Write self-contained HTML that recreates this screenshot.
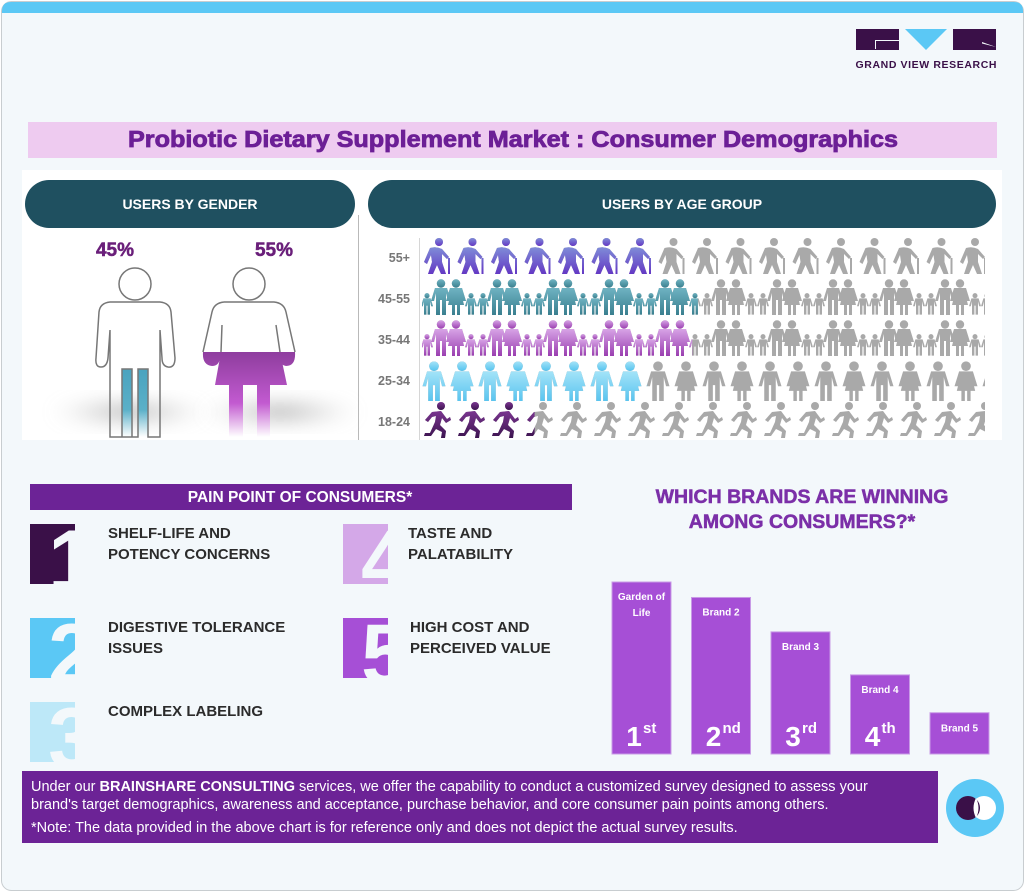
<!DOCTYPE html>
<html><head><meta charset="utf-8"><style>
html,body{margin:0;padding:0;background:#fff;}
svg{display:block;font-family:"Liberation Sans",Arial,sans-serif;}
</style></head><body>
<svg id="root" width="1025" height="892" viewBox="0 0 1025 892">
<defs>
 <linearGradient id="gMan" x1="0" y1="0" x2="0" y2="1"><stop offset="0" stop-color="#4aa3bf"/><stop offset="0.6" stop-color="#5bb0c8"/><stop offset="1" stop-color="#ffffff"/></linearGradient>
 <linearGradient id="gWoman" x1="0" y1="0" x2="0" y2="1"><stop offset="0" stop-color="#8e3d9e"/><stop offset="0.6" stop-color="#c25ad0"/><stop offset="1" stop-color="#ffffff"/></linearGradient>
 <radialGradient id="gShadow" cx="0.5" cy="0.5" r="0.5"><stop offset="0" stop-color="#999" stop-opacity="0.7"/><stop offset="1" stop-color="#ccc" stop-opacity="0"/></radialGradient>
 <linearGradient id="c0" x1="0" y1="0" x2="0" y2="1"><stop offset="0" stop-color="#7f8cd8"/><stop offset="1" stop-color="#6438c4"/></linearGradient>
 <linearGradient id="c1" x1="0" y1="0" x2="0" y2="1"><stop offset="0" stop-color="#6fb3c2"/><stop offset="1" stop-color="#3a7f8f"/></linearGradient>
 <linearGradient id="c2" x1="0" y1="0" x2="0" y2="1"><stop offset="0" stop-color="#d7a3e6"/><stop offset="1" stop-color="#9a3fb0"/></linearGradient>
 <linearGradient id="c3" x1="0" y1="0" x2="0" y2="1"><stop offset="0" stop-color="#a3e3f8"/><stop offset="1" stop-color="#55c3ef"/></linearGradient>
 <linearGradient id="c4" x1="0" y1="0" x2="0" y2="1"><stop offset="0" stop-color="#7a3590"/><stop offset="1" stop-color="#3d1450"/></linearGradient>
 <filter id="blur"><feGaussianBlur stdDeviation="8"/></filter>
</defs>

<rect x="1.5" y="1.5" width="1022" height="889" rx="10" fill="#f3f8fb" stroke="#c8cdd0"/>
<path d="M2 13 V11 Q2 2 11 2 H1014 Q1023 2 1023 11 V13 Z" fill="#5bc8f5"/>

<g>
 <rect x="856" y="29" width="43" height="21" fill="#3a1048"/>
 <path d="M875 40 H899 V41 H876 V49 H875 Z" fill="#f3f8fb"/>
 <path d="M905 29 H947 L926 50 Z" fill="#5bc8f5"/>
 <rect x="953" y="29" width="43" height="21" fill="#3a1048"/>
 <path d="M982 42 L996 47 L982 43.5 Z" fill="#f3f8fb"/>
 <text x="926" y="68" text-anchor="middle" font-size="10.5" font-weight="bold" fill="#3a1048" textLength="141">GRAND VIEW RESEARCH</text>
</g>

<rect x="28" y="122" width="969" height="36" fill="#eecbf0"/>
<text x="513" y="147" text-anchor="middle" font-size="23" font-weight="900" fill="#6c1f96" stroke="#6c1f96" stroke-width="0.8" textLength="770" lengthAdjust="spacingAndGlyphs">Probiotic Dietary Supplement Market : Consumer Demographics</text>

<rect x="22" y="170" width="980" height="270" fill="#ffffff"/>
<line x1="358.5" y1="215" x2="358.5" y2="440" stroke="#b9b9b9"/>
<rect x="25" y="180" width="330" height="48" rx="24" fill="#1f5060"/>
<text x="190" y="209" text-anchor="middle" font-size="14" font-weight="bold" fill="#fff">USERS BY GENDER</text>
<rect x="368" y="180" width="628" height="48" rx="24" fill="#1f5060"/>
<text x="682" y="209" text-anchor="middle" font-size="14" font-weight="bold" fill="#fff">USERS BY AGE GROUP</text>

<g>
 <ellipse cx="130" cy="412" rx="80" ry="18" fill="url(#gShadow)" filter="url(#blur)"/>
 <ellipse cx="280" cy="412" rx="80" ry="18" fill="url(#gShadow)" filter="url(#blur)"/>
 <text x="115" y="256" text-anchor="middle" font-size="19" font-weight="bold" fill="#6a1f7a" stroke="#6a1f7a" stroke-width="0.5">45%</text>
 <text x="274" y="256" text-anchor="middle" font-size="19" font-weight="bold" fill="#6a1f7a" stroke="#6a1f7a" stroke-width="0.5">55%</text>
 <g>
  <circle cx="135" cy="284" r="16" fill="#fff" stroke="#777" stroke-width="1.5"/>
  <path d="M122 369 H132 V437 H122 Z M138 369 H148 V437 H138 Z" fill="url(#gMan)"/>
  <path d="M110 302 H160 Q170 303 171 312 L175 358 Q175 368 168 367 Q162 366 162 358 L160 330 V437 H148 V369 H138 V437 H122 V369 H132 V437 H110 V330 L108 358 Q107 367 101 367 Q95 367 96 358 L99 312 Q100 303 110 302 Z" fill="none" stroke="#777" stroke-width="1.5"/>
 </g>
 <g>
  <circle cx="249" cy="284" r="16" fill="#fff" stroke="#777" stroke-width="1.5"/>
  <path d="M203 352 H295 Q296 366 286 366 Q280 365 279 358 L280 352 L287 385 H270 V437 H257 V385 H243 V437 H229 V385 H215 L221 352 L220 358 Q219 366 212 366 Q202 365 203 352 Z" fill="url(#gWoman)"/>
  <path d="M224 302 H274 Q284 303 286 312 L295 352 M203 352 L212 312 Q214 303 224 302 M222 325 L221 352 M276 325 L280 352" fill="none" stroke="#777" stroke-width="1.5"/>
 </g>
</g>

<g id="ageChart"></g>

<line x1="30.5" y1="484" x2="30.5" y2="510" stroke="#b88ad0"/>
<rect x="30" y="484" width="542" height="26" fill="#6c2396"/>
<text x="300" y="502" text-anchor="middle" font-size="15.5" font-weight="bold" fill="#fff">PAIN POINT OF CONSUMERS*</text>
<g id="painPoints"></g>

<text x="802" y="503" text-anchor="middle" font-size="19.5" font-weight="bold" fill="#7b2fa8" stroke="#7b2fa8" stroke-width="0.5">WHICH BRANDS ARE WINNING</text>
<text x="802" y="528" text-anchor="middle" font-size="19.5" font-weight="bold" fill="#7b2fa8" stroke="#7b2fa8" stroke-width="0.5">AMONG CONSUMERS?*</text>
<g id="brandChart"></g>

<rect x="22" y="771" width="916" height="72" fill="#6c2396"/>
<text x="31" y="791" font-size="14.5" fill="#fff">Under our <tspan font-weight="bold">BRAINSHARE CONSULTING</tspan> services, we offer the capability to conduct a customized survey designed to assess your</text>
<text x="31" y="809" font-size="14.5" fill="#fff">brand's target demographics, awareness and acceptance, purchase behavior, and core consumer pain points among others.</text>
<text x="31" y="832" font-size="14.5" fill="#fff">*Note: The data provided in the above chart is for reference only and does not depict the actual survey results.</text>
<g>
 <circle cx="975" cy="808" r="29" fill="#5bc8f5"/>
 <circle cx="984" cy="808" r="12" fill="#fff"/>
 <circle cx="968" cy="808" r="12" fill="#3a1048"/>
 <path d="M976 798 Q971 808 976 818 Q981 808 976 798 Z" fill="#fff"/>
</g>
</svg>
<script>
// ---- Age group data ----
const ageLabels = ["55+", "45-55", "35-44", "25-34", "18-24"];
const agePercent = [41, 49, 48, 40, 20];
const ageIcons = ["elder", "family", "family", "couple", "runner"];

// ---- Brand data ----
const brandNames = [["Garden of", "Life"], ["Brand 2"], ["Brand 3"], ["Brand 4"], ["Brand 5"]];
const brandScores = [100, 91, 71, 46, 24];
const brandRanks = ["1", "2", "3", "4", ""];
const brandSuffix = ["st", "nd", "rd", "th", ""];

// ---- Pain points ----
const painTexts = [["SHELF-LIFE AND", "POTENCY CONCERNS"], ["DIGESTIVE TOLERANCE", "ISSUES"], ["COMPLEX LABELING"], ["TASTE AND", "PALATABILITY"], ["HIGH COST AND", "PERCEIVED VALUE"]];

const NS = "http://www.w3.org/2000/svg";
function mk(tag, attrs, parent) {
  const e = document.createElementNS(NS, tag);
  for (const k in attrs) e.setAttribute(k, attrs[k]);
  if (parent) parent.appendChild(e);
  return e;
}

function adult(x, s, female, yo) {
  yo = yo || 0;
  const h = 36 * s;
  const Y = v => v + yo;
  const hw = 6 * s;
  let d = `M${x - hw} ${Y(9 * s)} H${x + hw} L${x + hw + 4 * s} ${Y(22 * s)} L${x + hw + 1 * s} ${Y(22 * s)} L${x + hw - 1 * s} ${Y(14 * s)} `;
  if (female) {
    d += `L${x + hw + 2 * s} ${Y(26 * s)} H${x + 4 * s} V${Y(h)} H${x + 1 * s} V${Y(26 * s)} H${x - 1 * s} V${Y(h)} H${x - 4 * s} V${Y(26 * s)} H${x - hw - 2 * s} L${x - hw + 1 * s} ${Y(14 * s)} `;
  } else {
    d += `V${Y(h)} H${x + 1 * s} V${Y(21 * s)} H${x - 1 * s} V${Y(h)} H${x - hw + 1 * s} V${Y(14 * s)} `;
  }
  d += `L${x - hw - 1 * s} ${Y(22 * s)} L${x - hw - 4 * s} ${Y(22 * s)} Z`;
  return { d: d, head: [x, Y(4.5 * s), 4.2 * s] };
}
function drawIcon(type, x0, g, fill) {
  const parts = [];
  if (type === "elder") {
    parts.push({ d: `M${x0 + 8} 10 Q${x0 + 14} 8 ${x0 + 20} 11 L${x0 + 27} 19 L${x0 + 25} 21 L${x0 + 20} 16 L${x0 + 20} 24 L${x0 + 24} 36 H${x0 + 19} L${x0 + 15} 27 L${x0 + 11} 36 H${x0 + 6} L${x0 + 10} 24 L${x0 + 9} 17 L${x0 + 5} 26 L${x0 + 2} 24 Z M${x0 + 26} 20 H${x0 + 28} V36 H${x0 + 26} Z`, head: [x0 + 17, 4, 4] });
  } else if (type === "family") {
    parts.push(adult(x0 + 5, 0.6, false, 14), adult(x0 + 19, 1, false), adult(x0 + 34, 1, true), adult(x0 + 49, 0.6, false, 14));
  } else if (type === "couple") {
    parts.push(adult(x0 + 12, 1.15, false), adult(x0 + 40, 1.15, true));
  } else if (type === "runner") {
    parts.push({ d: `M${x0 + 10} 10 L${x0 + 19} 9 L${x0 + 25} 17 L${x0 + 28} 15 L${x0 + 29} 18 L${x0 + 24} 21 L${x0 + 20} 16 L${x0 + 18} 23 L${x0 + 24} 29 L${x0 + 23} 36 H${x0 + 19} L${x0 + 20} 30 L${x0 + 14} 27 L${x0 + 9} 34 L${x0 + 2} 34 L${x0 + 3} 31 L${x0 + 8} 31 L${x0 + 13} 20 L${x0 + 14} 14 L${x0 + 10} 15 L${x0 + 6} 20 L${x0 + 3} 18 Z`, head: [x0 + 19, 4, 4] });
  }
  parts.forEach(p => {
    mk("path", { d: p.d, fill: fill }, g);
    mk("circle", { cx: p.head[0], cy: p.head[1], r: p.head[2], fill: fill }, g);
  });
}
const cellW = { elder: 33.5, family: 56, couple: 56, runner: 34 };
const ageX0 = 422, ageX1 = 985, ageY0 = 238, ageRowH = 41;
function xAge(p) { return ageX0 + (ageX1 - ageX0) * p / 100; }
function yAge(i) { return ageY0 + i * ageRowH; }

const ageG = document.getElementById("ageChart");
const clipDefs = document.querySelector("defs");
mk("line", { x1: 419.5, y1: 238, x2: 419.5, y2: 440, stroke: "#d6d6d6" }, ageG);
ageLabels.forEach((lab, i) => {
  const y = yAge(i);
  const t = mk("text", { x: 410, y: y + 24, "text-anchor": "end", "font-size": 12.5, "font-weight": "bold", fill: "#777" }, ageG);
  t.textContent = lab;
  
  
  const row = mk("g", { transform: `translate(0,${y})` }, ageG);
  
  
  const cpFull = mk("clipPath", { id: "full" + i }, clipDefs);
  mk("rect", { x: ageX0, y: -2, width: ageX1 - ageX0, height: 42 }, cpFull);
  const cpCol = mk("clipPath", { id: "col" + i }, clipDefs);
  mk("rect", { x: ageX0, y: -2, width: xAge(agePercent[i]) - ageX0, height: 42 }, cpCol);
  const gray = mk("g", { "clip-path": `url(#full${i})` }, row);
  const col = mk("g", { "clip-path": `url(#col${i})` }, row);
  
  
  const type = ageIcons[i];
  for (let x = ageX0; x < ageX1; x += cellW[type]) {
    drawIcon(type, x, gray, "#a9a9a9");
    drawIcon(type, x, col, `url(#c${i})`);
  }
});

// pain points
const painPos = [[30, 524], [30, 618], [30, 702], [343, 524], [343, 618]];
const painTextX = [108, 108, 108, 408, 410];
const painCol = ["#3a1048", "#5bc8f5", "#bde8f8", "#d4a8e8", "#a64fd6"];
const pg = document.getElementById("painPoints");
painTexts.forEach((lines, i) => {
  const [x, y] = painPos[i];
  const cp = mk("clipPath", { id: "pp" + i }, clipDefs);
  mk("rect", { x: x, y: y, width: 45, height: 60 }, cp);
  const box = mk("g", { "clip-path": `url(#pp${i})` }, pg);
  
  
  mk("rect", { x: x, y: y, width: 45, height: 60, fill: painCol[i] }, box);
  const n = mk("text", { x: x + 42, y: y + 66, "text-anchor": "middle", "font-size": 86, "font-weight": "bold", fill: "#f3f8fb" }, box);
  n.textContent = String(i + 1);
  lines.forEach((ln, j) => {
    const t = mk("text", { x: painTextX[i], y: y + 14 + j * 21, "font-size": 15, "font-weight": "bold", fill: "#2b2b2b" }, pg);
    t.textContent = ln;
    
    
  });
});

// brands
const bg = document.getElementById("brandChart");
const bx0 = 612, bStep = 79.5, bW = 59, bBase = 754, bMaxH = 172;
function yB(v) { return bBase - v / 100 * bMaxH; }
brandScores.forEach((v, i) => {
  const x = bx0 + i * bStep, y = yB(v);
  const r = mk("rect", { x: x, y: y, width: bW, height: bBase - y, fill: "#a64fd6", stroke: "#c89be6", "stroke-width": 1 }, bg);
  
  
  const nm = brandNames[i];
  const ty = brandRanks[i] ? y + 18 : y + 19;
  nm.forEach((s, j) => {
    const t = mk("text", { x: x + bW / 2, y: ty + j * 16, "text-anchor": "middle", "font-size": 10, "font-weight": "bold", fill: "#fff" }, bg);
    t.textContent = s;
    
    
  });
  if (brandRanks[i]) {
    const t = mk("text", { x: x + 22, y: bBase - 8, "text-anchor": "middle", "font-size": 28, "font-weight": "bold", fill: "#fff" }, bg);
    t.textContent = brandRanks[i];
    
    
    const s = mk("text", { x: x + 31, y: bBase - 21, "font-size": 15, "font-weight": "bold", fill: "#fff" }, bg);
    s.textContent = brandSuffix[i];
  }
});
</script>
</body></html>
